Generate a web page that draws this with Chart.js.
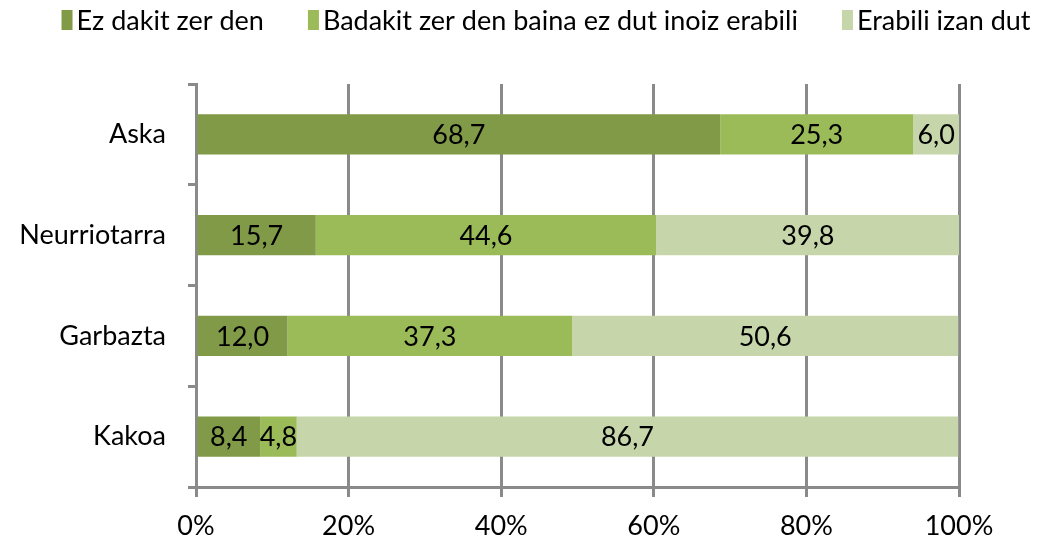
<!DOCTYPE html>
<html>
<head>
<meta charset="utf-8">
<script src="https://cdn.jsdelivr.net/npm/chart.js@4.4.1/dist/chart.umd.min.js"></script>
<style>
  html, body { margin: 0; padding: 0; background: #ffffff; }
  #wrap { width: 1040px; height: 542px; position: relative; }
</style>
</head>
<body>
<div id="wrap"><canvas id="c"></canvas></div>
<script>
const categories = ['Aska', 'Neurriotarra', 'Garbazta', 'Kakoa'];
const seriesNames = ['Ez dakit zer den', 'Badakit zer den baina ez dut inoiz erabili', 'Erabili izan dut'];
const ezDakit = [68.7, 15.7, 12.0, 8.4];
const badakit = [25.3, 44.6, 37.3, 4.8];
const erabili = [6.0, 39.8, 50.6, 86.7];
const tickValues = [0, 20, 40, 60, 80, 100];

const FONT = 'Lato';
const FS = 27;
const colors = ['#809A47', '#9BBB59', '#C6D6AA'];
const axisGray = '#8a8a8a';

const labelPlugin = {
  id: 'segLabels',
  afterDatasetsDraw(chart) {
    const ctx = chart.ctx;
    ctx.save();
    ctx.font = FS + 'px ' + FONT;
    ctx.fillStyle = '#000';
    ctx.textAlign = 'center';
    ctx.textBaseline = 'middle';
    chart.data.datasets.forEach((ds, i) => {
      const meta = chart.getDatasetMeta(i);
      meta.data.forEach((el, j) => {
        const v = ds.data[j];
        const txt = v.toFixed(1).replace('.', ',');
        const cx = (el.x + el.base) / 2;
        ctx.fillText(txt, cx, el.y + 1);
      });
    });
    ctx.restore();
  }
};

const legendPlugin = {
  id: 'topLegend',
  afterDraw(chart) {
    const ctx = chart.ctx;
    ctx.save();
    ctx.font = FS + 'px ' + FONT;
    ctx.textBaseline = 'middle';
    ctx.textAlign = 'left';
    const boxW = 11, boxH = 20, gapBox = 4, gapItem = 44;
    const items = chart.data.datasets.map(ds => ({ label: ds.label, color: ds.backgroundColor, w: ctx.measureText(ds.label).width }));
    let total = 0;
    items.forEach((it, k) => { total += boxW + gapBox + it.w + (k < items.length - 1 ? gapItem : 0); });
    let x = 546 - total / 2;
    const cy = 20;
    items.forEach(it => {
      ctx.fillStyle = it.color;
      ctx.fillRect(x, cy - boxH / 2, boxW, boxH);
      x += boxW + gapBox;
      ctx.fillStyle = '#000';
      ctx.fillText(it.label, x, cy + 1);
      x += it.w + gapItem;
    });
    ctx.restore();
  }
};

new Chart(document.getElementById('c'), {
  type: 'bar',
  data: {
    labels: categories,
    datasets: [
      { label: seriesNames[0], data: ezDakit, backgroundColor: colors[0] },
      { label: seriesNames[1], data: badakit, backgroundColor: colors[1] },
      { label: seriesNames[2], data: erabili, backgroundColor: colors[2] }
    ]
  },
  options: {
    indexAxis: 'y',
    responsive: true,
    maintainAspectRatio: false,
    animation: false,
    layout: { padding: { top: 84, right: 81, left: 0, bottom: 0 } },
    datasets: { bar: { barPercentage: 0.4, categoryPercentage: 1.0 } },
    plugins: {
      legend: { display: false },
      tooltip: { enabled: false }
    },
    scales: {
      x: {
        stacked: true,
        min: 0,
        max: 100,
        afterBuildTicks(scale) { scale.ticks = tickValues.map(v => ({ value: v })); },
        afterFit(scale) { scale.height = 55; },
        grid: { color: axisGray, lineWidth: 3, drawTicks: true, tickLength: 10, tickColor: axisGray },
        border: { color: axisGray, width: 3 },
        ticks: {
          color: '#000',
          font: { family: FONT, size: FS },
          padding: 13,
          callback: v => v + '%'
        }
      },
      y: {
        stacked: true,
        afterFit(scale) { scale.width = 196; },
        grid: { display: true, drawOnChartArea: false, drawTicks: true, tickLength: 8, tickColor: axisGray, lineWidth: 3, offset: true },
        border: { color: axisGray, width: 3 },
        ticks: { color: '#000', font: { family: FONT, size: FS }, padding: 22 }
      }
    }
  },
  plugins: [labelPlugin, legendPlugin]
});
</script>
</body>
</html>
